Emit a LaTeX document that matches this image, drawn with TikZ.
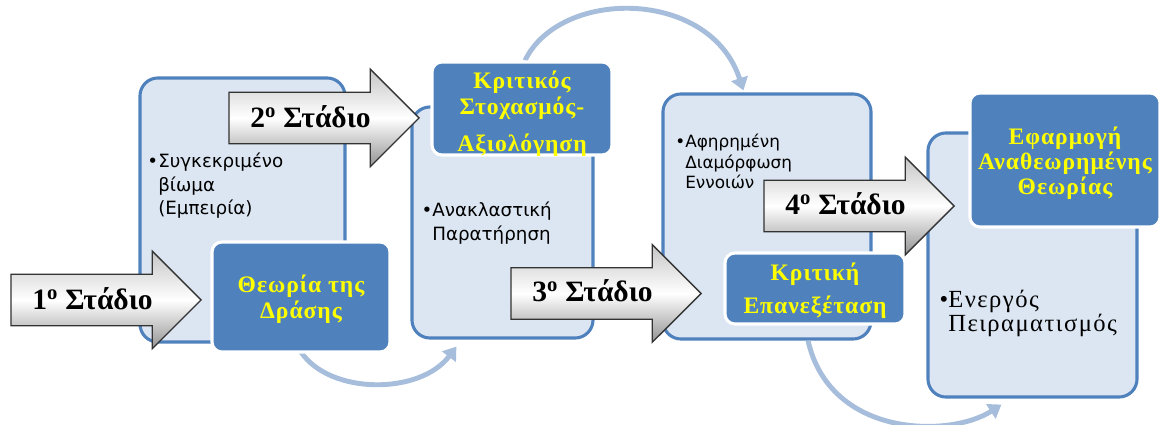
\documentclass[tikz,border=0pt]{standalone}
\usepackage{fontspec}
\setmainfont{Liberation Serif}
\newfontfamily\sansgr{DejaVu Sans}
\usetikzlibrary{shapes.arrows,arrows.meta,calc}
\definecolor{boxfill}{HTML}{DCE6F2}
\definecolor{boxline}{HTML}{4F81BD}
\definecolor{darkfill}{HTML}{4F81BD}
\definecolor{curvecol}{HTML}{A6BDDB}
\definecolor{ylw}{HTML}{FFFF00}
\tikzset{
 bigbox/.style={draw=boxline, fill=boxfill, line width=2.2pt, rounded corners=0.45cm, inner sep=0pt},
 darkbox/.style={draw=white, fill=darkfill, line width=2.2pt, rounded corners=0.25cm, inner sep=0pt},
 stagearrow/.style={single arrow, draw=black!80, line width=1pt, single arrow head extend=0.575cm,
   inner xsep=0pt, inner ysep=0.625cm, minimum height=4.75cm, minimum width=0pt,
   top color=gray!45, bottom color=gray!85, middle color=white, anchor=tip},
 stagelabel/.style={font=\fontsize{21}{24}\selectfont\bfseries, anchor=base west, inner sep=0pt},
 ytext/.style={text=ylw, font=\fontsize{16.8}{18.4}\selectfont\bfseries\addfontfeatures{LetterSpace=4}, align=center, inner sep=0pt, anchor=north},
 btext/.style={font=\sansgr\fontsize{13}{16.8}\selectfont, align=left, inner sep=0pt, anchor=north west},
 stext/.style={font=\fontsize{17.5}{17}\selectfont\addfontfeatures{LetterSpace=6}, align=left, inner sep=0pt, anchor=north west},
 cyclearrow/.style={draw=curvecol, line width=3.5pt, -{Triangle[width=12pt,length=9pt]}},
}
\begin{document}
\begin{tikzpicture}[x=0.025cm, y=-0.025cm]
\useasboundingbox (0,0) rectangle (1160,425);
% big light boxes
\node[bigbox, minimum width=5.125cm, minimum height=6.6cm] (box1) at (242.5,210) {};
\node[bigbox, minimum width=4.525cm, minimum height=5.775cm] (box2) at (502.5,222.5) {};
\node[bigbox, minimum width=5.2cm, minimum height=6.125cm] (box3) at (767,216.5) {};
\node[bigbox, minimum width=5.225cm, minimum height=6.6cm] (box4) at (1032.5,265) {};
% dark box centres
\path (301,297) coordinate (cA) (522,108.5) coordinate (cB) (815,288.5) coordinate (cC) (1065,160) coordinate (cD);
% cycle arrows behind
\draw[cyclearrow] ($(cA)+(0,55)$) .. controls (330,395) and (420,395) .. ($(box2.south west)+(46,7)$);
\draw[cyclearrow] ($(cB)+(3,-48)$) .. controls (560,-12) and (710,-12) .. ($(box3.north west)+(82,-2)$);
\draw[cyclearrow] ($(box3.south)+(41,0)$) .. controls (830,438) and (950,438) .. ($(box4.south west)+(75,6)$);
% dark boxes
\node[darkbox, minimum width=4.45cm, minimum height=2.75cm] (A) at (cA) {};
\node[darkbox, minimum width=4.5cm, minimum height=2.325cm] (B) at (cB) {};
\node[darkbox, minimum width=4.5cm, minimum height=1.775cm] (C) at (cC) {};
\node[darkbox, minimum width=4.75cm, minimum height=3.35cm] (D) at (cD) {};
% texts in boxes
\node[btext] (t1) at (158,152.5) {\llap{•}Συγκεκριμένο\\βίωμα\\(Εμπειρία)};
\node[btext] (t2) at (432,201.5) {\llap{•}Ανακλαστική\\Παρατήρηση};
\node[btext, font=\sansgr\fontsize{12}{14.5}\selectfont] (t3) at (685,134) {\llap{•}Αφηρημένη\\Διαμόρφωση\\Εννοιών};
\node[stext] (t4) at (948,290) {\llap{•}Ενεργός\\Πειραματισμός};
\node[ytext] (yA) at (301,274.5) {Θεωρία της\\Δράσης};
\node[ytext] (yB) at (522,71) {Κριτικός\\Στοχασμός-\\[7.8pt]Αξιολόγηση};
\node[ytext] (yC) at (815,263) {Κριτική\\[5pt]Επανεξέταση};
\node[ytext, font=\fontsize{16.8}{17.7}\selectfont\bfseries\addfontfeatures{LetterSpace=4}] (yD) at (1065,126.5) {Εφαρμογή\\Αναθεωρημένης\\Θεωρίας};
% stage arrows
\node[stagearrow] (a1) at (202,300) {};
\node[stagearrow] (a2) at (420,118) {};
\node[stagearrow] (a3) at (702,293.5) {};
\node[stagearrow] (a4) at (955,206) {};
\node[stagelabel] (l1) at (32,310) {1\textsuperscript{o} Στάδιο};
\node[stagelabel] (l2) at (250,128) {2\textsuperscript{o} Στάδιο};
\node[stagelabel] (l3) at (532,302) {3\textsuperscript{o} Στάδιο};
\node[stagelabel] (l4) at (785,215) {4\textsuperscript{o} Στάδιο};
\end{tikzpicture}
\end{document}
